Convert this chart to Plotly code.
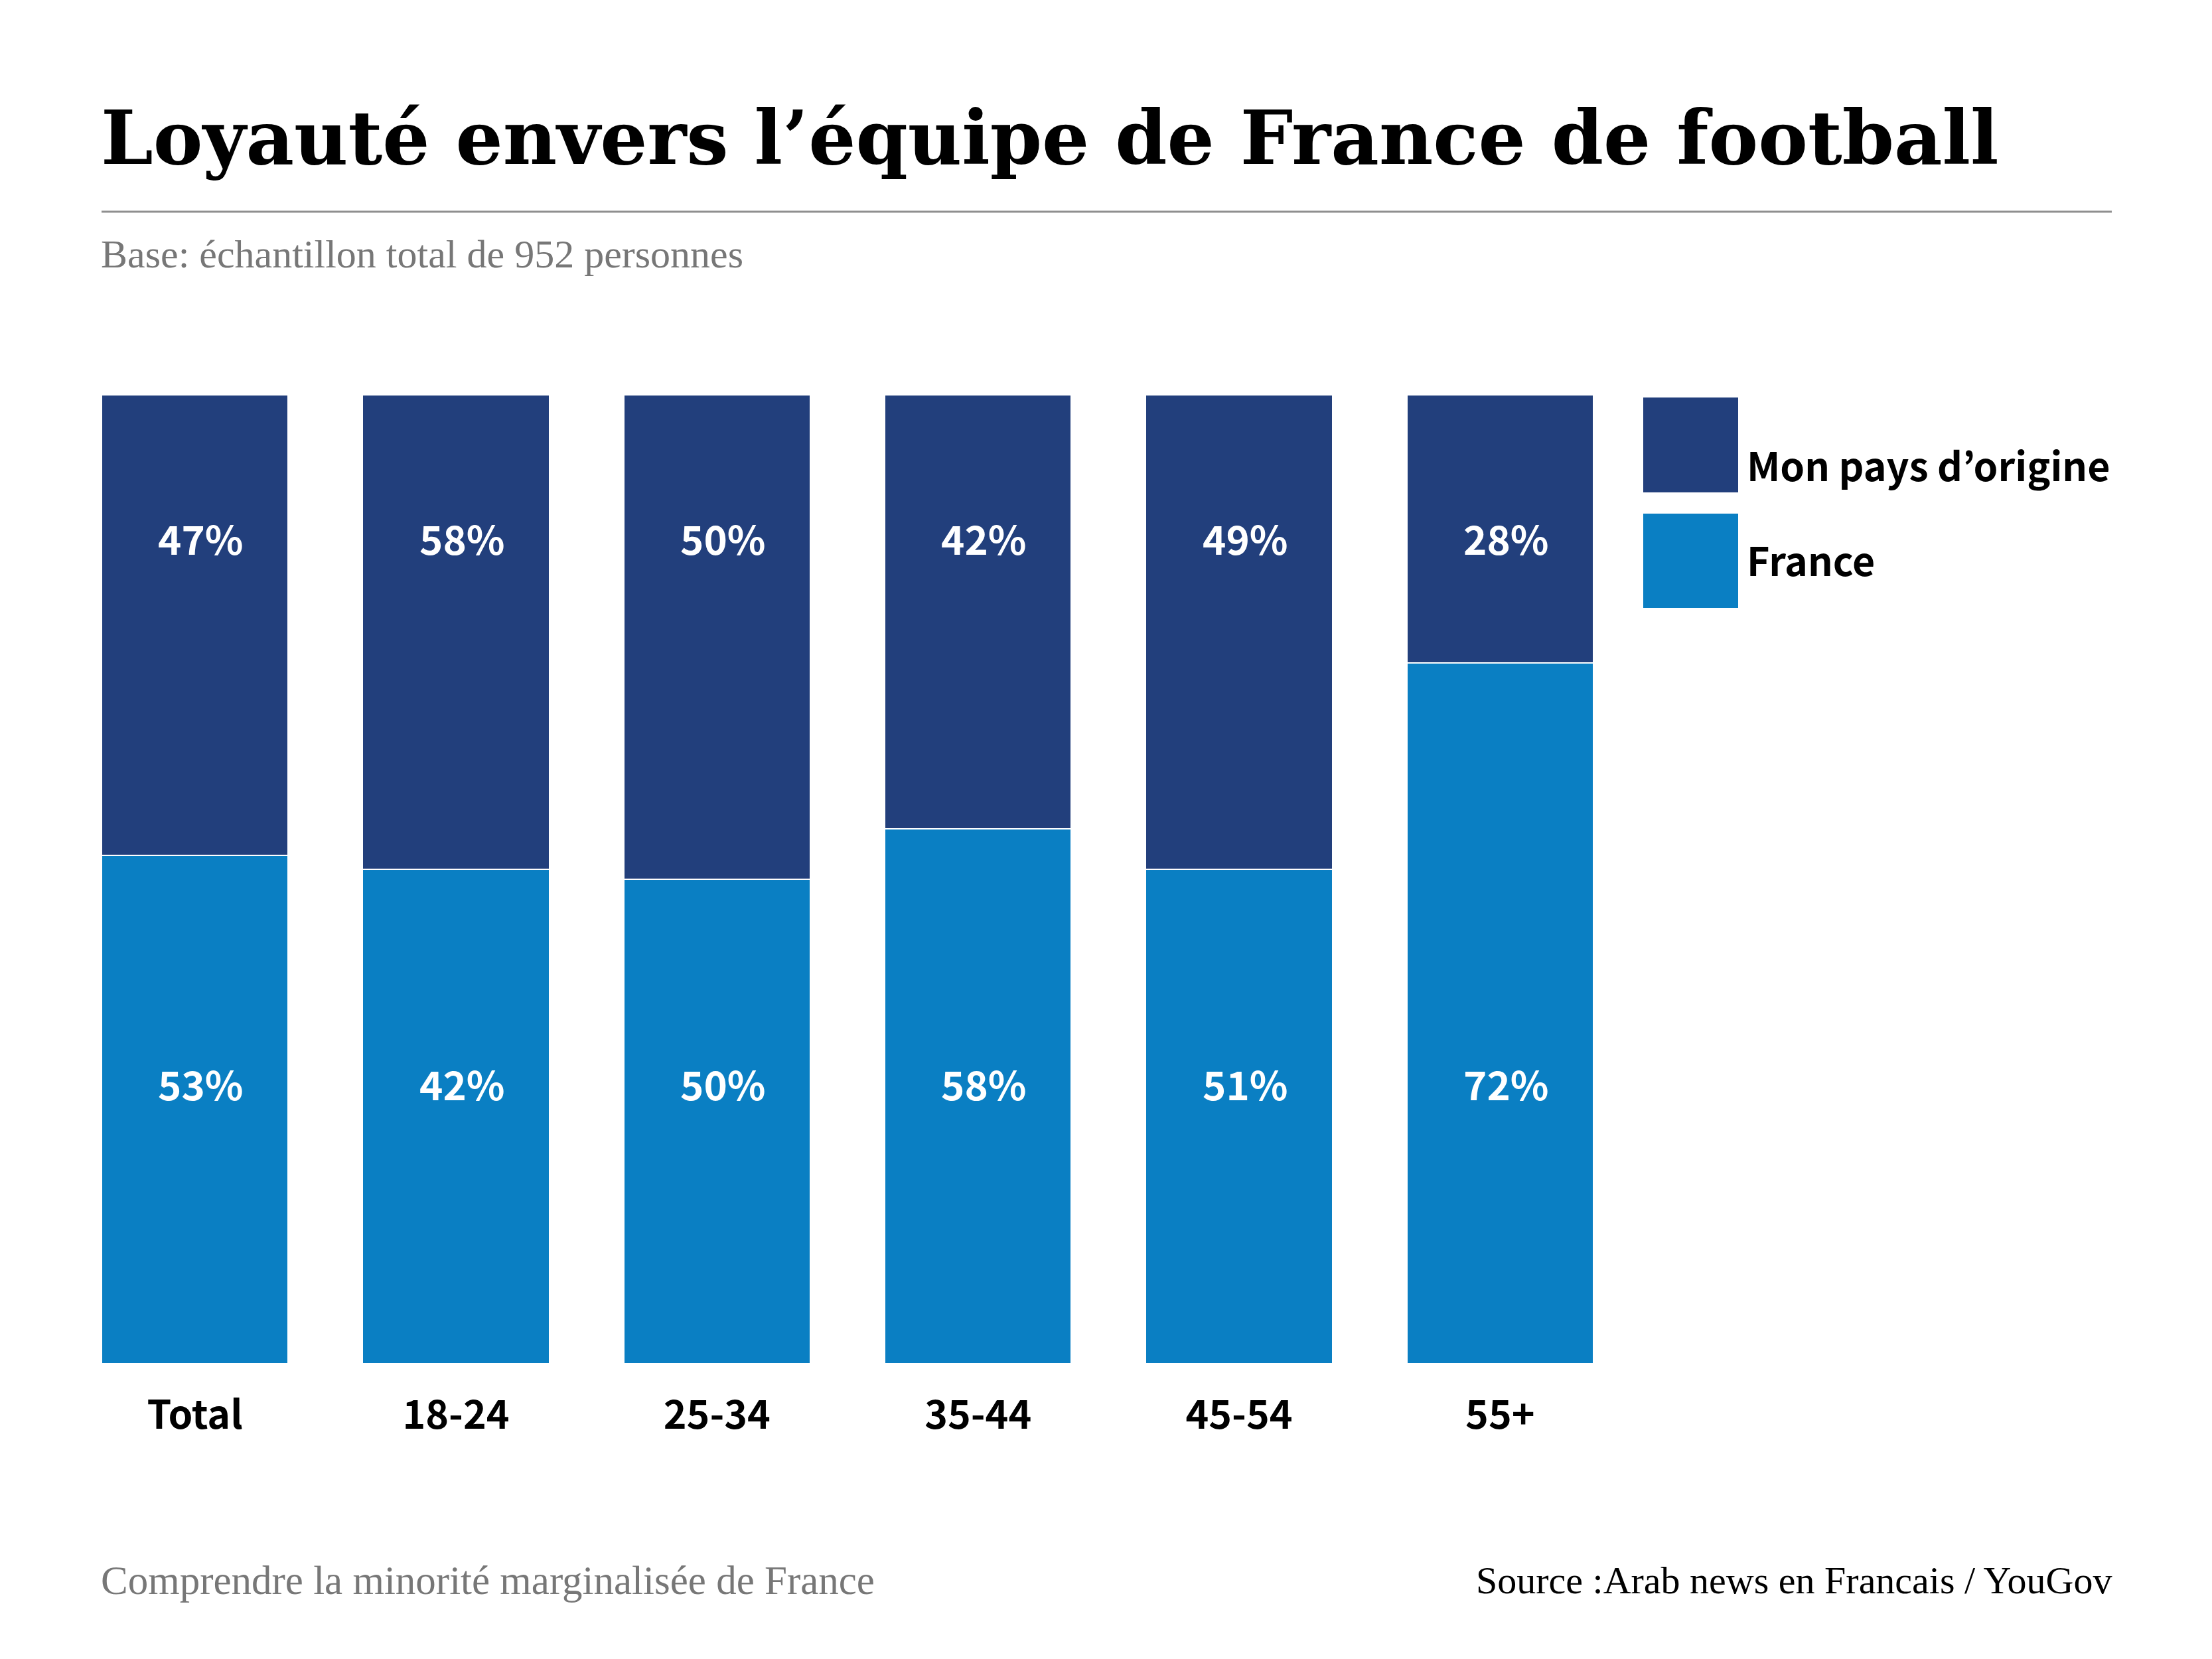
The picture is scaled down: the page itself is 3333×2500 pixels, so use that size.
import plotly.graph_objects as go

categories = ["Total", "18-24", "25-34", "35-44", "45-54", "55+"]
france = [52.5, 51, 50, 55.2, 51, 72.3]
mon_pays = [47.5, 49, 50, 44.8, 49, 27.7]
# printed labels
france_labels = [53, 42, 50, 58, 51, 72]
mon_pays_labels = [47, 58, 50, 42, 49, 28]
series_names = ["Mon pays d’origine", "France"]

title_text = "Loyauté envers l’équipe de France de football"
subtitle_text = "Base: échantillon total de 952 personnes"
footer_left = "Comprendre la minorité marginalisée de France"
footer_right = "Source :Arab news en Francais / YouGov"

DARK = "#223F7C"
LIGHT = "#0A7FC3"
W, H = 3333, 2500
OFF = 8  # page body margin
PL, PR, PT, PB = 97 - OFF, 2457 - OFF, 595 - OFF, 2055 - OFF  # plot area in figure pixels

SANS = "Noto Sans CJK JP"
SERIF = "Liberation Serif"
TSERIF = "DejaVu Serif"


def px(x):
    return (x - OFF - PL) / (PR - PL)


def py(y):
    return (PB - (y - OFF)) / (PB - PT)


fig = go.Figure()
fig.add_trace(go.Bar(x=categories, y=france, name=series_names[1],
                     marker=dict(color=LIGHT, line=dict(color="white", width=2))))
fig.add_trace(go.Bar(x=categories, y=mon_pays, name=series_names[0],
                     marker=dict(color=DARK, line=dict(color="white", width=2))))

annotations = []
for c, v in zip(categories, mon_pays_labels):
    annotations.append(dict(x=c, y=85.3, xref="x", yref="y", text=f"{v}%", showarrow=False,
                            xshift=9,
                            font=dict(family=SANS, size=60, color="white", weight="bold")))
for c, v in zip(categories, france_labels):
    annotations.append(dict(x=c, y=29.0, xref="x", yref="y", text=f"{v}%", showarrow=False,
                            xshift=9,
                            font=dict(family=SANS, size=60, color="white", weight="bold")))

# Title, subtitle, footers
annotations.append(dict(x=px(150), y=py(207), xref="paper", yref="paper", text=title_text,
                        showarrow=False, xanchor="left", yanchor="middle",
                        font=dict(family=TSERIF, size=112, color="black", weight="bold")))
annotations.append(dict(x=px(150), y=py(383), xref="paper", yref="paper", text=subtitle_text,
                        showarrow=False, xanchor="left", yanchor="middle",
                        font=dict(family=SERIF, size=60, color="#777777")))
annotations.append(dict(x=px(150), y=py(2381), xref="paper", yref="paper", text=footer_left,
                        showarrow=False, xanchor="left", yanchor="middle",
                        font=dict(family=SERIF, size=61, color="#777777")))
annotations.append(dict(x=px(3184), y=py(2381), xref="paper", yref="paper", text=footer_right,
                        showarrow=False, xanchor="right", yanchor="middle",
                        font=dict(family=SERIF, size=58, color="black")))

# Legend (custom)
annotations.append(dict(x=px(2630), y=py(699), xref="paper", yref="paper", text=series_names[0],
                        showarrow=False, xanchor="left", yanchor="middle",
                        font=dict(family=SANS, size=59, color="black", weight="bold")))
annotations.append(dict(x=px(2630), y=py(842), xref="paper", yref="paper", text=series_names[1],
                        showarrow=False, xanchor="left", yanchor="middle",
                        font=dict(family=SANS, size=59, color="black", weight="bold")))

shapes = [
    dict(type="line", xref="paper", yref="paper", x0=px(153), x1=px(3182), y0=py(319), y1=py(319),
         line=dict(color="#8F8F8F", width=3)),
    dict(type="rect", xref="paper", yref="paper", x0=px(2476), x1=px(2619), y0=py(599), y1=py(742),
         fillcolor=DARK, line=dict(width=0)),
    dict(type="rect", xref="paper", yref="paper", x0=px(2476), x1=px(2619), y0=py(774), y1=py(916),
         fillcolor=LIGHT, line=dict(width=0)),
]

fig.update_layout(
    width=W, height=H,
    margin=dict(l=PL, r=W - PR, t=PT, b=H - PB, pad=0),
    paper_bgcolor="white", plot_bgcolor="white",
    barmode="stack", bargap=0.285,
    showlegend=False,
    annotations=annotations,
    shapes=shapes,
    xaxis=dict(showgrid=False, zeroline=False, showline=False, ticks="",
               tickfont=dict(family=SANS, size=59, color="black", weight="bold"),
               ticklabelstandoff=38),
    yaxis=dict(range=[0, 100], showgrid=False, zeroline=False, showline=False,
               showticklabels=False, ticks=""),
)

fig.write_html("out.html")
